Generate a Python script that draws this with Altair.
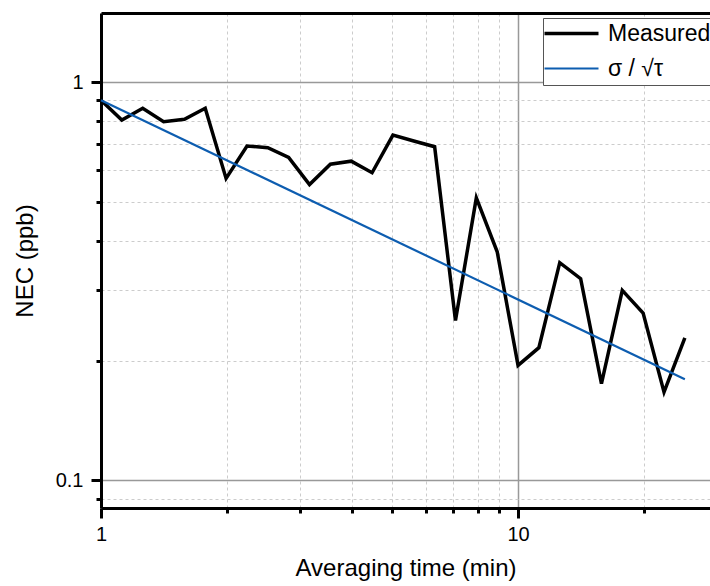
import altair as alt
import pandas as pd

# Averaging time (min)
tau = [1.0, 1.122, 1.259, 1.413, 1.585, 1.778, 1.995, 2.239, 2.512, 2.818,
       3.162, 3.548, 3.981, 4.467, 5.012, 5.623, 6.310, 7.079, 7.943, 8.913,
       10.0, 11.22, 12.59, 14.13, 15.85, 17.78, 19.95, 22.39, 25.12]
# Measured NEC (ppb)
measured = [0.900, 0.803, 0.859, 0.795, 0.806, 0.859, 0.573, 0.691, 0.684, 0.647,
            0.553, 0.622, 0.633, 0.592, 0.736, 0.711, 0.688, 0.252, 0.512, 0.375,
            0.1945, 0.2154, 0.352, 0.321, 0.175, 0.300, 0.263, 0.1666, 0.228]
# sigma / sqrt(tau) reference line (end points)
model_tau = [1.0, 25.12]
model_nec = [0.900, 0.1796]

series_names = ["Measured", "σ / √τ"]
series_colors = ["#000000", "#0d5db0"]
series_widths = [3.5, 2.2]

x_ticks = [1, 2, 3, 4, 5, 6, 7, 8, 9, 10, 20]
y_ticks = [0.09, 0.1, 0.2, 0.3, 0.4, 0.5, 0.6, 0.7, 0.8, 0.9, 1]

df_meas = pd.DataFrame({"tau": tau, "nec": measured, "series": series_names[0]})
df_model = pd.DataFrame({"tau": model_tau, "nec": model_nec, "series": series_names[1]})

FONT = "Liberation Sans"

x_scale = alt.Scale(type="log", domain=[1, 28.86], nice=False)
y_scale = alt.Scale(type="log", domain=[0.0853, 1.49], nice=False)

color_enc = alt.Color(
    "series:N",
    scale=alt.Scale(domain=series_names, range=series_colors),
    legend=alt.Legend(
        title=None, orient="none", legendX=442, legendY=5,
        strokeColor="#555555", fillColor="white", padding=4,
        symbolType="M-3,0H3", symbolSize=324, symbolOffset=13,
        labelFont=FONT, labelFontSize=23, labelColor="black",
        labelOffset=25, rowPadding=11,
    ),
)
sw_enc = alt.StrokeWidth(
    "series:N",
    scale=alt.Scale(domain=series_names, range=series_widths),
    legend=None,
)

x_major_test = "datum.value == 1 || datum.value == 10"
y_major_test = "datum.value == 0.1 || datum.value == 1"

x_axis = alt.Axis(
    values=x_ticks,
    labelExpr="(" + x_major_test + ") ? datum.value + '' : ''",
    title="Averaging time (min)",
    labelFont=FONT, labelFontSize=20, labelColor="black",
    labelFlush=False, labelOverlap=False, labelPadding=6,
    titleFont=FONT, titleFontSize=24, titleFontWeight="normal", titleColor="black",
    titlePadding=12,
    domainColor="black", domainWidth=3,
    tickColor="black", tickWidth=3,
    tickSize={"condition": {"test": x_major_test, "value": 10}, "value": 5},
    grid=True,
    gridColor={"condition": {"test": x_major_test, "value": "#999999"}, "value": "#cccccc"},
    gridDash={"condition": {"test": x_major_test, "value": []}, "value": [3, 3]},
    gridWidth={"condition": {"test": x_major_test, "value": 1.5}, "value": 1},
)
y_axis = alt.Axis(
    values=y_ticks,
    labelExpr="(" + y_major_test + ") ? datum.value + '' : ''",
    title="NEC (ppb)",
    labelFont=FONT, labelFontSize=20, labelColor="black",
    labelFlush=False, labelOverlap=False, labelPadding=8,
    titleFont=FONT, titleFontSize=24, titleFontWeight="normal", titleColor="black",
    titlePadding=18,
    domainColor="black", domainWidth=3,
    tickColor="black", tickWidth=3,
    tickSize={"condition": {"test": y_major_test, "value": 10}, "value": 5},
    grid=True,
    gridColor={"condition": {"test": y_major_test, "value": "#999999"}, "value": "#cccccc"},
    gridDash={"condition": {"test": y_major_test, "value": []}, "value": [3, 3]},
    gridWidth={"condition": {"test": y_major_test, "value": 1.5}, "value": 1},
)
top_axis = alt.Axis(orient="top", labels=False, ticks=False, grid=False, title=None,
                    domainColor="black", domainWidth=3)

meas_line = alt.Chart(df_meas).mark_line(strokeJoin="miter").encode(
    x=alt.X("tau:Q", scale=x_scale, axis=x_axis),
    y=alt.Y("nec:Q", scale=y_scale, axis=y_axis),
    color=color_enc,
    strokeWidth=sw_enc,
)
model_line = alt.Chart(df_model).mark_line().encode(
    x=alt.X("tau:Q", scale=x_scale, axis=top_axis),
    y=alt.Y("nec:Q", scale=y_scale),
    color=color_enc,
    strokeWidth=sw_enc,
)

chart = (
    alt.layer(meas_line, model_line)
    .resolve_axis(x="independent")
    .properties(
        width=609, height=495,
        autosize=alt.AutoSizeParams(type="none"),
        padding={"left": 101, "top": 13, "right": 0, "bottom": 78},
        background="white",
    )
    .configure_view(stroke=None)
)

chart.save("out.html", embed_options={"renderer": "svg", "actions": False})
